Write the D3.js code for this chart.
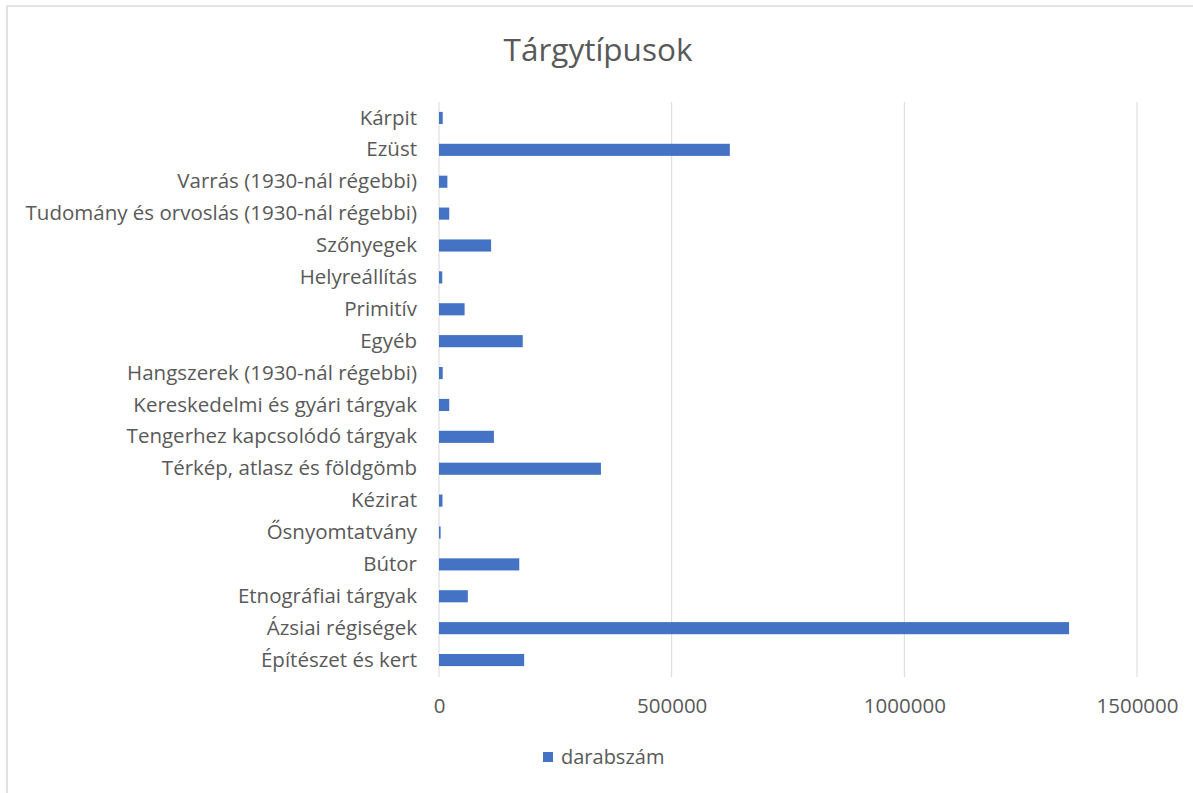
<!DOCTYPE html>
<html><head><meta charset="utf-8">
<script src="https://cdn.jsdelivr.net/npm/d3@7"></script>
<style>body{margin:0;background:#fff}svg{display:block}text{font-family:"Open Sans","Noto Sans",sans-serif;fill:#595959}</style>
</head><body><svg id="c" width="1193" height="793"></svg>
<script>
const categories = ["Kárpit","Ezüst","Varrás (1930-nál régebbi)","Tudomány és orvoslás (1930-nál régebbi)","Szőnyegek","Helyreállítás","Primitív","Egyéb","Hangszerek (1930-nál régebbi)","Kereskedelmi és gyári tárgyak","Tengerhez kapcsolódó tárgyak","Térkép, atlasz és földgömb","Kézirat","Ősnyomtatvány","Bútor","Etnográfiai tárgyak","Ázsiai régiségek","Építészet és kert"];
const values = [8000,625000,18000,22000,112000,7000,55000,180000,8000,22000,118000,348000,7500,3500,172500,62000,1354000,183000];
const tickValues = [0,500000,1000000,1500000];
const seriesName = "darabszám";
const title = "Tárgytípusok";

const svg = d3.select("#c");
svg.append("rect").attr("x",7).attr("y",6).attr("width",1200).attr("height",800).attr("fill","#fff").attr("stroke","#d9d9d9").attr("stroke-width",1.5);

const x = d3.scaleLinear().domain([0,1500000]).range([439,1137]);
const y = d3.scaleBand().domain(categories).range([102,676]).paddingInner(0.62).paddingOuter(0.31);

svg.append("g").selectAll("line").data(tickValues).join("line")
  .attr("x1",d=>x(d)).attr("x2",d=>x(d)).attr("y1",102).attr("y2",677)
  .attr("stroke","#d9d9d9").attr("stroke-width",1);

svg.append("g").selectAll("rect").data(categories).join("rect")
  .attr("x",x(0)).attr("y",d=>y(d)).attr("height",y.bandwidth())
  .attr("width",(d,i)=>x(values[i])-x(0)).attr("fill","#4472c4");

const yAxis = svg.append("g").attr("transform","translate(439,0)").call(d3.axisLeft(y).tickSize(0).tickPadding(22));
yAxis.select(".domain").remove();
yAxis.selectAll("text").attr("font-size","20.5px").style("fill","#595959").style("font-family",'"Open Sans",sans-serif');

const xAxis = svg.append("g").attr("transform","translate(0,677)").call(d3.axisBottom(x).tickValues(tickValues).tickFormat(d3.format("d")).tickSize(0).tickPadding(21));
xAxis.select(".domain").remove();
xAxis.selectAll("text").attr("font-size","20.5px").style("fill","#595959").style("font-family",'"Open Sans",sans-serif');

svg.append("text").attr("x",598).attr("y",61).attr("text-anchor","middle").attr("font-size","31.5px").text(title);

svg.append("rect").attr("x",543).attr("y",752).attr("width",10).attr("height",10).attr("fill","#4472c4");
svg.append("text").attr("x",561).attr("y",764).attr("font-size","20px").text(seriesName);
</script></body></html>
